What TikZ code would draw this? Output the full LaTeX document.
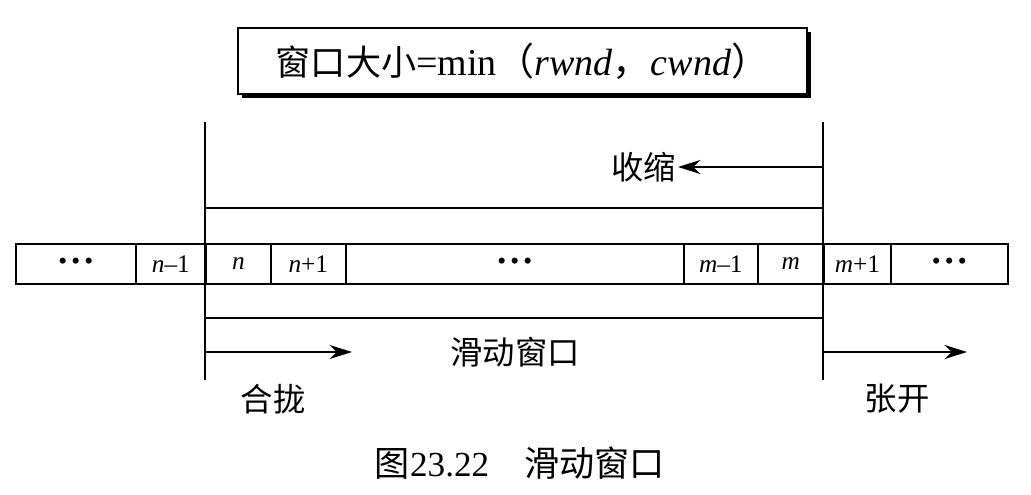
\documentclass[tikz,border=0pt]{standalone}
\usepackage{fontspec}
\setmainfont{Liberation Serif}
\newfontfamily\cjk{Noto Sans CJK SC}
\usetikzlibrary{arrows.meta}
\begin{document}
\begin{tikzpicture}[x=0.025cm,y=-0.025cm,
  ln/.style={line width=1.5pt},
  arr/.style={line width=1.5pt,-{Stealth[length=16pt,width=10pt]}},
  cell/.style={draw,line width=1.2pt,minimum height=40*0.025cm,inner sep=0pt,font=\fontsize{18}{20}\selectfont,anchor=north west},
  lbl/.style={font=\cjk\fontsize{23}{26}\selectfont}]
\useasboundingbox (0,0) rectangle (1031,494);
\fill (242,32) rectangle (811,98);
\node[draw,fill=white,line width=1.3pt,minimum width=569*0.025cm,minimum height=66*0.025cm,anchor=north west,inner sep=0pt] (title) at (237,27)
  {{\cjk\fontsize{25}{28}\selectfont 窗口大小}{\fontsize{27}{30}\selectfont =min{\cjk （}\textit{rwnd}{\cjk ，}\textit{cwnd}{\cjk ）}}};
\foreach \a/\b/\t/\n in {15/135/{\textbullet\,\textbullet\,\textbullet}/c1,135/205/{\textit{n}\textendash1}/c2,205/270/\textit{n}/c3,270/345/{\textit{n}+1}/c4,345/683/{\textbullet\,\textbullet\,\textbullet}/c5,683/757/{\textit{m}\textendash1}/c6,757/823/\textit{m}/c7,823/890/{\textit{m}+1}/c8,890/1007/{\textbullet\,\textbullet\,\textbullet}/c9}
  \node[cell,minimum width={(\b-\a)*0.025cm}] (\n) at (\a,243) {\t};
\coordinate (lt) at (205,122); \coordinate (lb) at (205,380);
\coordinate (rt) at (823,122); \coordinate (rb) at (823,380);
\draw[ln] (lt) -- (lb);
\draw[ln] (rt) -- (rb);
\coordinate (wtl) at (205,208); \coordinate (wtr) at (823,208);
\coordinate (wbl) at (205,318); \coordinate (wbr) at (823,318);
\draw[ln] (wtl) -- (wtr);
\draw[ln] (wbl) -- (wbr);
\node[lbl,anchor=east,inner sep=1pt] (shrink) at (678,167) {收缩};
\coordinate (s0) at (823,167);
\draw[arr] (s0) -- (shrink.east);
\coordinate (a0) at (205,352); \coordinate (a1) at (352,352);
\draw[arr] (a0) -- (a1);
\coordinate (b0) at (823,352); \coordinate (b1) at (967,352);
\draw[arr] (b0) -- (b1);
\node[lbl] (sw) at (515,352) {滑动窗口};
\node[lbl] (close) at (273,399) {合拢};
\node[lbl] (open) at (897,399) {张开};
\node[font=\fontsize{25}{28}\selectfont] (cap) at (520,463) {{\cjk 图}23.22\quad{\cjk 滑动窗口}};
\end{tikzpicture}
\end{document}
